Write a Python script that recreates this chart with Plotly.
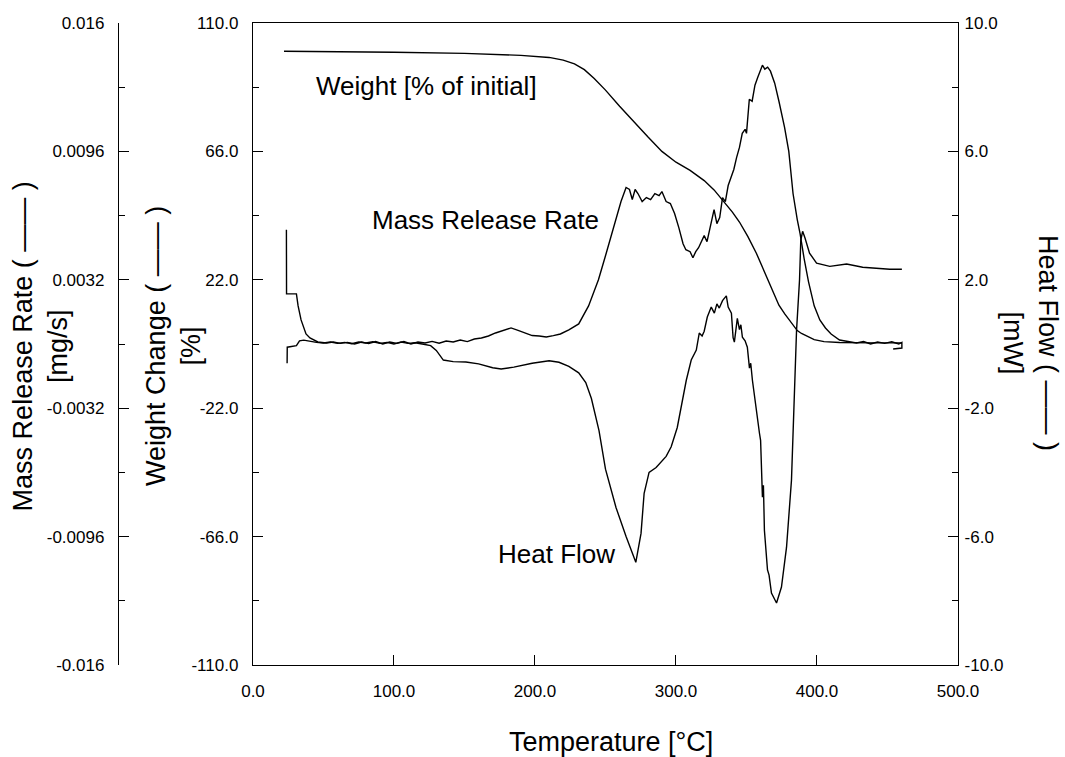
import plotly.graph_objects as go

# ---------------- data ----------------
# Mass release rate [mg/s] vs temperature [°C]
mrr_T = [23.7, 23.8, 30.8, 32.0, 34.1, 37.6, 40.4, 46.0, 52, 57, 62, 67, 72, 77, 82, 87, 92, 97,
         102, 107, 112, 117, 122, 127, 132, 137, 142, 147, 152, 157, 162, 167, 172, 178, 183, 188,
         193, 198, 203, 208, 213, 218, 224, 231, 238, 245, 250, 256, 261, 264.6, 267, 269, 271,
         273, 276, 279, 282, 285, 288, 290, 293, 296, 299, 302, 305, 307, 310, 312, 314, 316, 318,
         320, 322, 324, 326, 327, 329, 331, 333, 335, 337, 339, 341, 343, 345, 347, 349, 350, 352,
         354, 356, 358, 360, 361.3, 363, 365, 367, 370, 373, 377, 380, 383, 386, 388, 391, 394,
         398, 402, 406, 410, 416, 423, 428, 433, 438, 443, 448, 453, 458, 460.2, 460.2, 454]
mrr_V = [0.0057, 0.0025, 0.0025, 0.0019, 0.0012, 0.0005, 0.0003, 0.0001, 0.00005, 0.0001, 0.00003,
         0.00008, 0.0, 0.0001, 0.00002, 0.00012, 0.0, 0.0001, 0.00003, 0.00012, 0.0, 0.0001, 0.00005,
         0.00013, 0.00004, 0.00015, 0.0001, 0.0002, 0.00012, 0.00025, 0.0003, 0.0004, 0.00055,
         0.0007, 0.0008, 0.00068, 0.00055, 0.00042, 0.0004, 0.00035, 0.00042, 0.0005, 0.0007,
         0.0010, 0.0019, 0.0032, 0.0044, 0.0059, 0.0071, 0.0078, 0.0077, 0.0072, 0.0077, 0.0075,
         0.0071, 0.0073, 0.0072, 0.0075, 0.0074, 0.0076, 0.0071, 0.0070, 0.0065, 0.0058, 0.0050,
         0.0047, 0.0046, 0.0043, 0.0046, 0.0048, 0.0051, 0.0054, 0.0051, 0.0057, 0.0063, 0.0067,
         0.0060, 0.0063, 0.0073, 0.0071, 0.0079, 0.0083, 0.0087, 0.0093, 0.0098, 0.0105, 0.0107,
         0.0105, 0.0122, 0.0121, 0.0129, 0.0133, 0.0137, 0.0139, 0.0137, 0.0138, 0.0136, 0.0130,
         0.0121, 0.0108, 0.0096, 0.0075, 0.0062, 0.0055, 0.0042, 0.0031, 0.0019, 0.0012, 0.0008,
         0.0005, 0.0002, 0.0001, 0.00005, 0.00012, 0.0, 0.0001, 0.00003, 0.00011, 0.0, 0.00008,
         -0.0002, -0.00025]

# Weight [% of initial] vs temperature [°C]
wt_T = [22, 60, 100, 150, 190, 210, 220, 228, 235, 242, 250, 260, 270, 280, 290, 300, 310, 320,
        327, 333, 340, 345, 351, 357, 361, 365, 369, 373, 377, 380.5, 383, 386, 389, 393, 398,
        405, 416, 440, 460.2]
wt_V = [100.3, 100.2, 100.0, 99.6, 98.9, 98.2, 97.3, 96.0, 94.0, 91.0, 87.0, 81.5, 76.2, 71.0,
        66.0, 62.3, 59.5, 56.0, 52.8, 49.3, 45.2, 41.8, 36.8, 31.1, 26.5, 21.9, 17.3, 13.3, 10.4,
        8.2, 6.3, 4.6, 3.6, 2.6, 1.5, 0.8, 0.5, 0.4, 0.4]

# Heat flow [mW] vs temperature [°C]
hf_T = [24.2, 24.3, 30.8, 33, 36, 40, 45, 50, 55, 60, 65, 70, 75, 80, 85, 90, 95, 100, 105, 110,
        115, 120, 126, 130, 135, 142, 151, 160, 170, 176, 185, 198, 210, 217, 224, 231, 236, 240,
        245.4, 250, 257.5, 264.6, 271.5, 275.2, 277.4, 280.9, 285.9, 293, 296.6, 300.9, 304,
        307.3, 310.8, 314.4, 316.5, 318.5, 320, 322.2, 325, 327.2, 329, 330.7, 333, 335.7, 337,
        339.3, 340.5, 341.4, 343.5, 345, 346, 347.1, 349, 350.6, 352.1, 353, 354.2, 357, 359.2,
        360, 361.3, 362, 362.7, 364.9, 366, 367.7, 371.3, 374.8, 378.4, 381.9, 384.1, 385.5,
        387.6, 388.5, 389.8, 391.5, 394.7, 399.7, 409.1, 416, 421, 432.4, 451.6, 460.2]
hf_V = [-0.60, -0.10, -0.05, 0.10, 0.12, 0.08, 0.05, 0.03, 0.06, 0.02, 0.05, 0.01, 0.06, 0.03,
        0.07, 0.02, 0.05, 0.0, 0.06, 0.02, 0.04, 0.0, -0.05, -0.20, -0.50, -0.55, -0.56, -0.62,
        -0.74, -0.78, -0.72, -0.60, -0.52, -0.57, -0.70, -0.90, -1.2, -1.7, -2.7, -3.9, -5.1,
        -6.0, -6.8, -5.9, -4.65, -4.0, -3.85, -3.5, -3.2, -2.6, -1.9, -1.13, -0.50, -0.19, 0.34,
        0.25, 0.4, 0.84, 1.15, 0.96, 1.25, 1.12, 1.35, 1.50, 1.15, 0.96, 0.2, 0.06, 0.80, 0.45,
        0.6, 0.21, 0.1, -0.10, -0.75, -0.6, -1.13, -2.15, -2.78, -3.0, -4.77, -4.4, -5.80, -7.04,
        -7.2, -7.76, -8.07, -7.57, -6.33, -4.24, -1.66, 0.43, 1.99, 3.23, 3.51, 3.3, 2.83, 2.52,
        2.42, 2.47, 2.49, 2.39, 2.33, 2.33]

# tick labels
x_ticks = [0, 100, 200, 300, 400, 500]
x_ticktext = ["0.0", "100.0", "200.0", "300.0", "400.0", "500.0"]
w_ticks = [-110, -66, -22, 22, 66, 110]
w_ticktext = ["-110.0", "-66.0", "-22.0", "22.0", "66.0", "110.0"]
hf_ticks = [-10, -6, -2, 2, 6, 10]
hf_ticktext = ["-10.0", "-6.0", "-2.0", "2.0", "6.0", "10.0"]
mrr_ticks = [-0.016, -0.0096, -0.0032, 0.0032, 0.0096, 0.016]
mrr_ticktext = ["-0.016", "-0.0096", "-0.0032", "0.0032", "0.0096", "0.016"]
mrr_minor = [-0.0128, -0.0064, 0.0, 0.0064, 0.0128]

# ---------------- figure ----------------
FONT = "Liberation Sans, Arial, Helvetica, sans-serif"
line = dict(color="black", width=1.4)

fig = go.Figure()
fig.add_trace(go.Scatter(x=wt_T, y=wt_V, mode="lines", line=line, yaxis="y", hoverinfo="skip"))
fig.add_trace(go.Scatter(x=hf_T, y=hf_V, mode="lines", line=line, yaxis="y2", hoverinfo="skip"))
fig.add_trace(go.Scatter(x=mrr_T, y=mrr_V, mode="lines", line=line, yaxis="y3", hoverinfo="skip"))

axis_common = dict(showline=True, linecolor="black", linewidth=1.4, showgrid=False,
                   zeroline=False, ticks="inside", ticklen=10, tickwidth=1.4,
                   tickcolor="black", tickfont=dict(family=FONT, size=17, color="black"))

fig.update_layout(
    width=1065, height=757,
    margin=dict(l=118, r=107, t=23, b=92),
    paper_bgcolor="white", plot_bgcolor="white",
    showlegend=False,
    font=dict(family=FONT, color="black", size=17),
    xaxis=dict(domain=[0.1607, 1], range=[0, 500], tickvals=x_ticks, ticktext=x_ticktext,
               mirror=True, ticklabelstandoff=10, **axis_common),
    yaxis=dict(range=[-110, 110], tickvals=w_ticks, ticktext=w_ticktext,
               ticklabelstandoff=10,
               minor=dict(tickvals=[-88, -44, 0, 44, 88], ticks="inside", ticklen=6,
                          tickwidth=1.4, tickcolor="black"),
               **axis_common),
    yaxis2=dict(range=[-10, 10], overlaying="y", side="right", anchor="x",
                tickvals=hf_ticks, ticktext=hf_ticktext, ticklabelstandoff=2,
                minor=dict(tickvals=[-8, -4, 0, 4, 8], ticks="inside", ticklen=6,
                           tickwidth=1.4, tickcolor="black"),
                **axis_common),
    yaxis3=dict(range=[-0.016, 0.016], overlaying="y", side="left", anchor="free", position=0,
                tickvals=mrr_ticks, ticktext=mrr_ticktext, ticklabelstandoff=10,
                minor=dict(tickvals=mrr_minor, ticks="inside", ticklen=6,
                           tickwidth=1.4, tickcolor="black"),
                **axis_common),
)

ann_font = dict(family=FONT, size=26, color="black")
title_font = dict(family=FONT, size=27, color="black")
DASH = "\u2014\u2014"
annotations = [
    dict(text="Weight [% of initial]", x=0.3667, y=0.9019, font=ann_font),
    dict(text="Mass Release Rate", x=0.438, y=0.693, font=ann_font),
    dict(text="Heat Flow", x=0.5226, y=0.1729, font=ann_font),
    dict(text="Temperature [°C]", x=0.5869, y=-0.12, font=dict(family=FONT, size=27, color="black")),
    dict(text=f"Mass Release Rate ( {DASH} )<br>[mg/s]", x=-0.0923, y=0.497, textangle=-90,
         font=title_font),
    dict(text=f"Weight Change ( {DASH} )<br>[%]", x=0.0667, y=0.497, textangle=-90,
         font=title_font),
    dict(text=f"Heat Flow ( {DASH} )<br>[mW]", x=1.0857, y=0.5016, textangle=90,
         font=title_font),
]
for a in annotations:
    fig.add_annotation(xref="paper", yref="paper", showarrow=False, xanchor="center",
                       yanchor="middle", align="center", **a)

fig.write_html("out.html", config={"displayModeBar": False},
               post_script="document.body.style.margin='0';document.body.style.overflow='hidden';")
